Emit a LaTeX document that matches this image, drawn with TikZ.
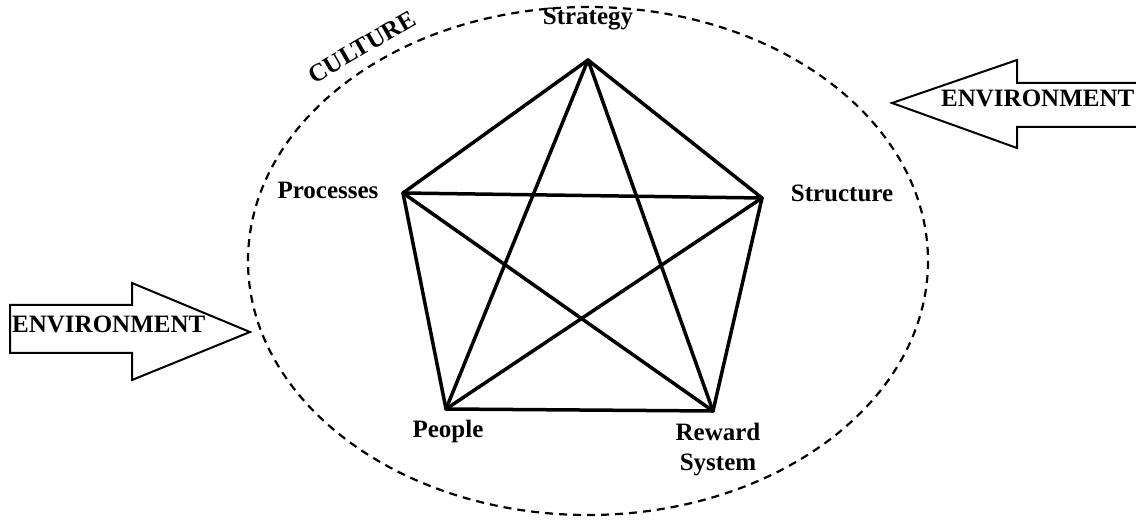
\documentclass[tikz,border=0pt]{standalone}
\usepackage{fontspec}
\setmainfont{Liberation Serif}
\usetikzlibrary{positioning}

\begin{document}
\begin{tikzpicture}[x=1pt,y=-1pt,
    corner label/.style={font=\bfseries\fontsize{25}{30}\selectfont,inner sep=0pt,align=center},
    link/.style={line width=3.5pt,line cap=round,line join=round},
    env arrow/.style={line width=2pt,line join=miter},
    culture line/.style={dash pattern=on 8pt off 6pt,line width=2.2pt}]
    \useasboundingbox (0,0) rectangle (1136,521);

    \draw[culture line] (588,261) ellipse [x radius=340,y radius=254];
    \node[corner label,rotate=30] (culture) at (362,47) {CULTURE};

    \coordinate (strategy) at (588,60);
    \coordinate (structure) at (762,198);
    \coordinate (reward) at (713,411);
    \coordinate (people) at (446,409);
    \coordinate (processes) at (403,193);

    \node[corner label,anchor=base] (strategyl) at (588,25) {Strategy};
    \node[corner label,anchor=base] (structurel) at (842,202) {Structure};
    \node[corner label,anchor=base] (processesl) at (328,199) {Processes};
    \node[corner label,anchor=base] (peoplel) at (448,438) {People};
    \node[corner label,anchor=base] (rewardl) at (718,470) {Reward\\System};

    \path[link] (strategy) edge (structure)
          (structure) edge (reward)
          (reward) edge (people)
          (people) edge (processes)
          (processes) edge (strategy)
          (strategy) edge (people)
          (strategy) edge (reward)
          (processes) edge (structure)
          (processes) edge (reward)
          (structure) edge (people);

    \coordinate (envrtip) at (892,103);
    \coordinate (envltip) at (250,332);
    \draw[env arrow] (1140,83) -- (1017,83) -- (1017,60) -- (envrtip)
          -- (1017,148) -- (1017,127) -- (1140,127);
    \draw[env arrow] (10,305) -- (132,305) -- (132,283) -- (envltip)
          -- (132,380) -- (132,353) -- (10,353) -- cycle;
    \node[corner label,anchor=base west] (envr) at (941,107) {ENVIRONMENT};
    \node[corner label,anchor=base west] (envl) at (12,333) {ENVIRONMENT};
\end{tikzpicture}
\end{document}
